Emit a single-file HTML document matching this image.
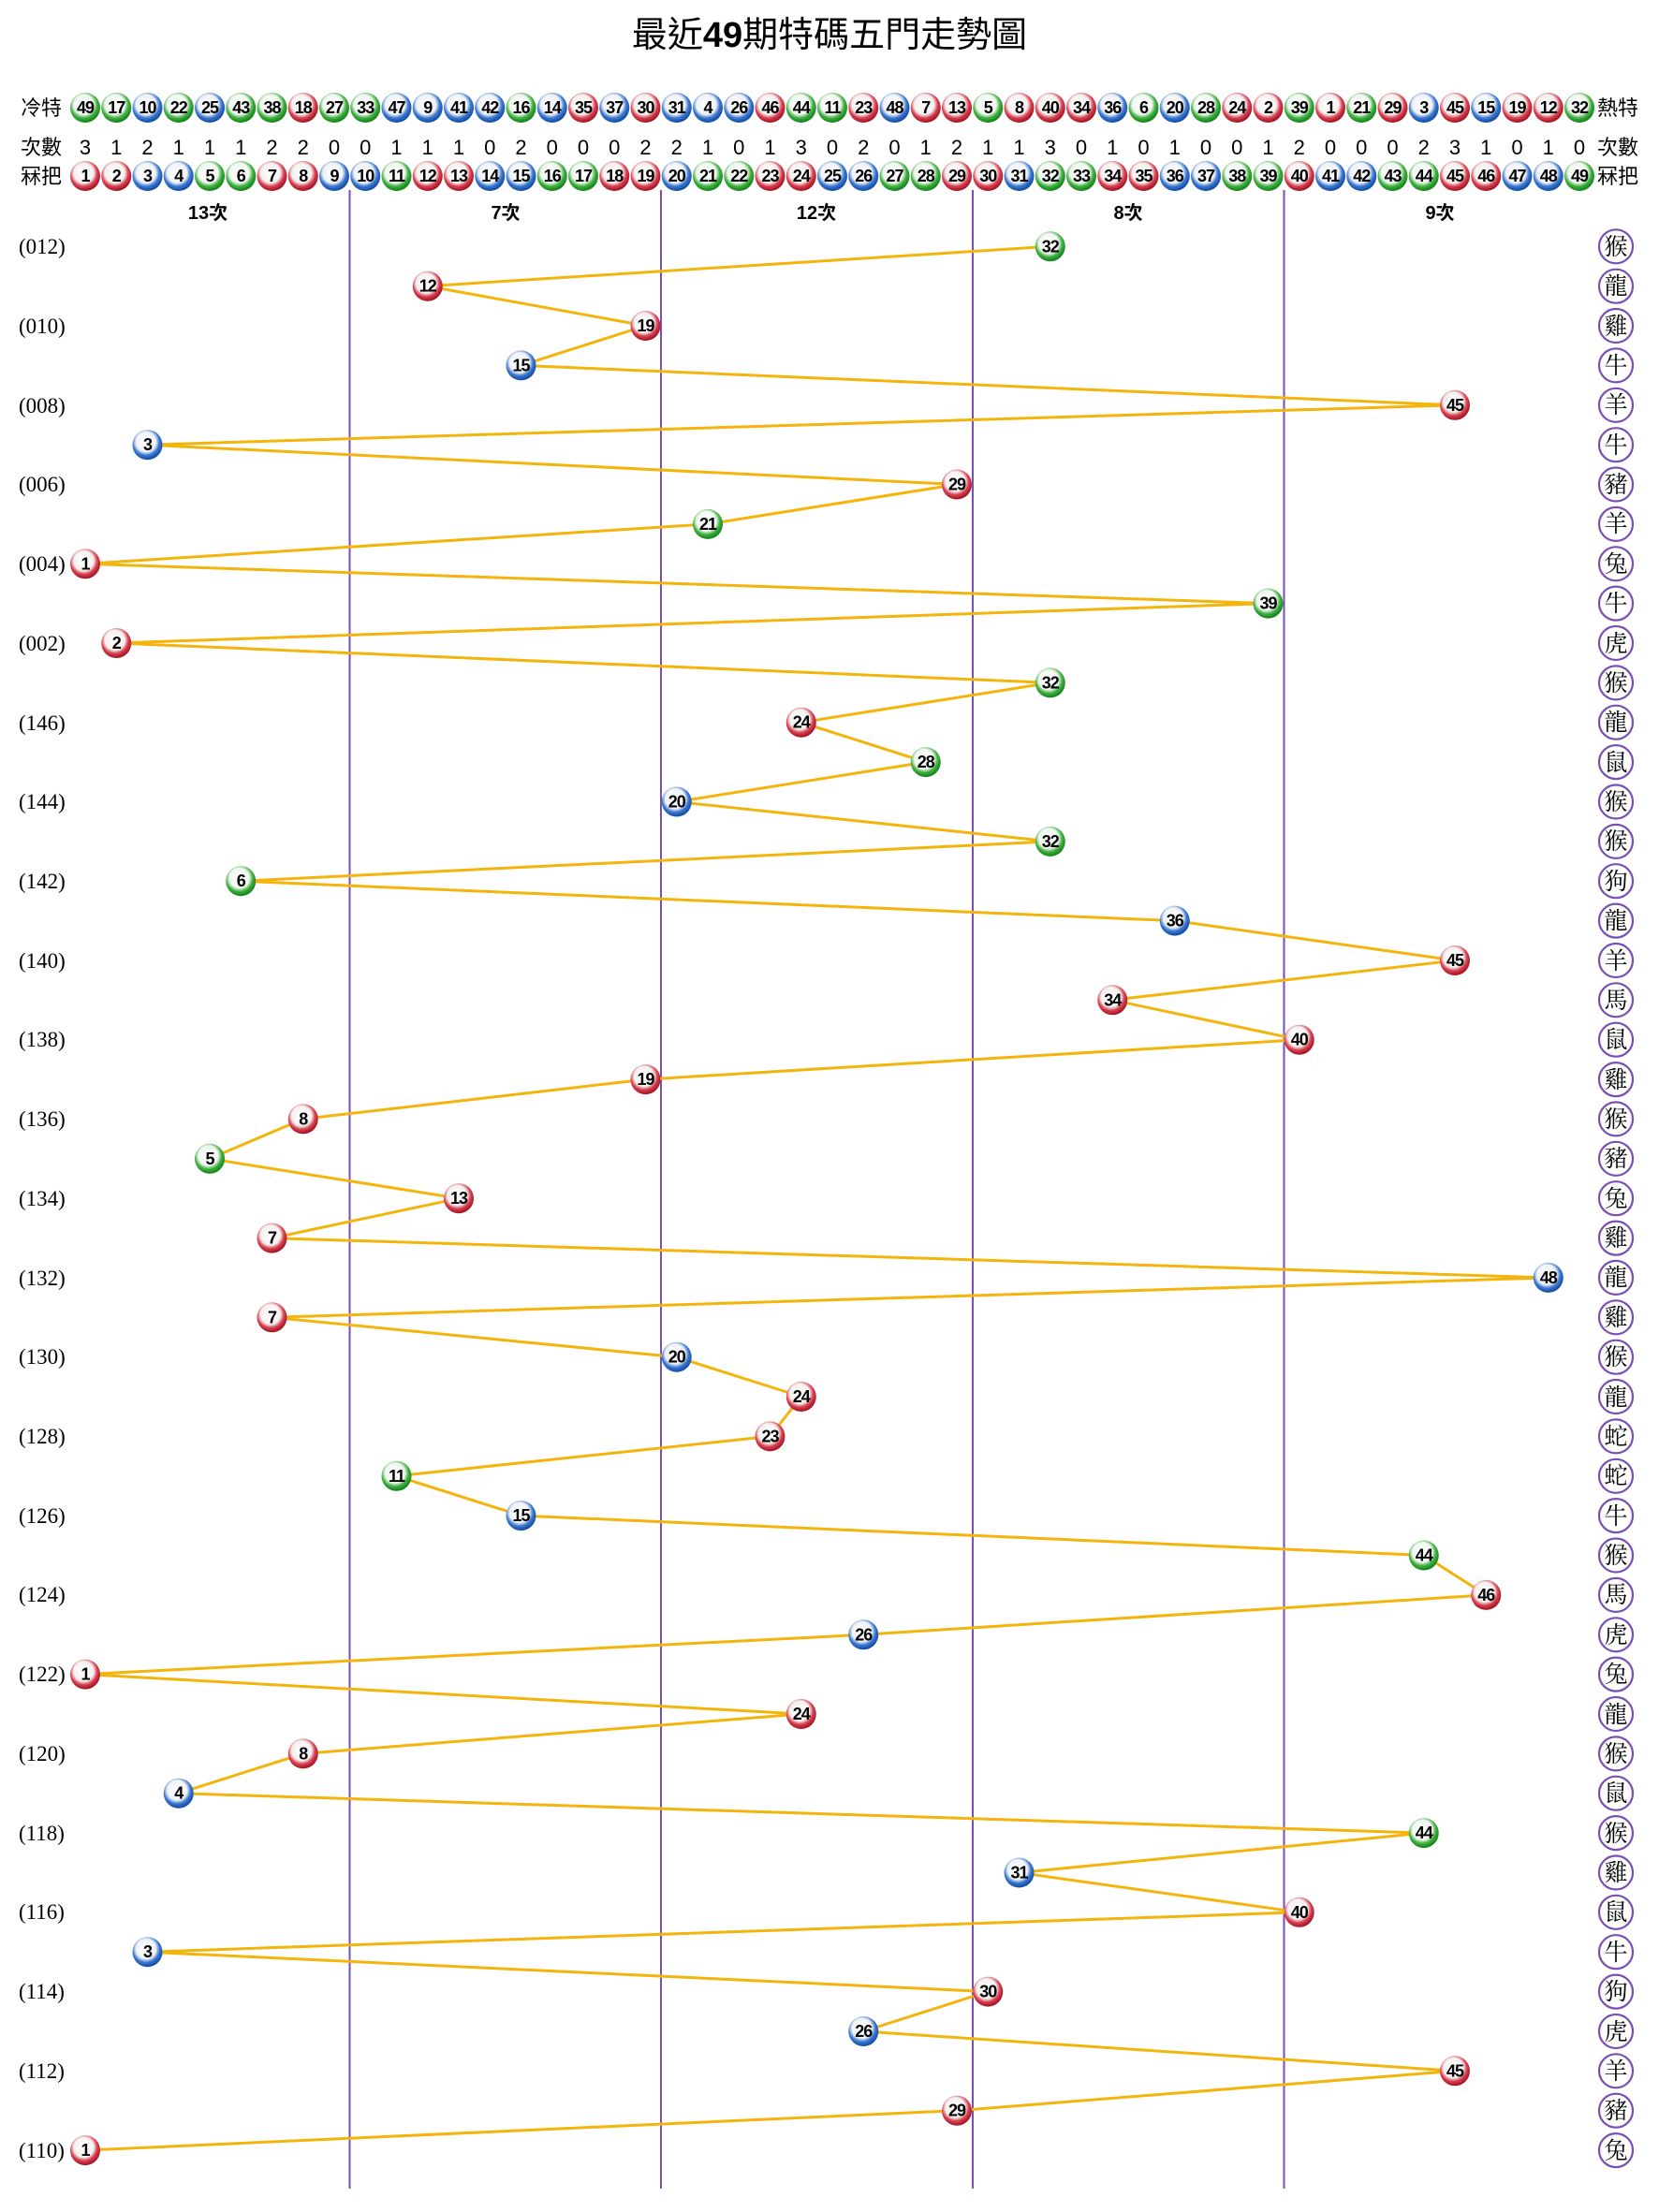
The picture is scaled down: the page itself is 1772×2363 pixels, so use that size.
<!DOCTYPE html>
<html><head><meta charset="utf-8"><style>
html,body{margin:0;padding:0;background:#fff;}
svg{display:block;}
.n{font-family:"Liberation Sans",sans-serif;font-weight:bold;font-size:18px;text-anchor:middle;fill:#000;letter-spacing:-1px}
.c{font-family:"Liberation Sans",sans-serif;font-size:22px;text-anchor:middle;fill:#000}
.h{font-family:"Liberation Sans","Noto Sans CJK TC",sans-serif;font-size:22px;fill:#000}
.l{font-family:"Liberation Serif",serif;font-size:23px;fill:#000}
.z{font-family:"Noto Serif CJK SC","Noto Sans CJK TC",serif;font-size:25px;text-anchor:middle;fill:#000}
.g{font-family:"Liberation Sans","Noto Sans CJK TC",sans-serif;font-size:20px;font-weight:bold;text-anchor:middle;fill:#000}
</style></head><body>
<svg width="1772" height="2363" viewBox="0 0 1772 2363" xmlns="http://www.w3.org/2000/svg">
<defs>
<radialGradient id="gr" cx="45%" cy="40%" r="60%"><stop offset="0" stop-color="#fff"/><stop offset="0.55" stop-color="#f4f0f0"/><stop offset="0.75" stop-color="#d84050"/><stop offset="1" stop-color="#a01020"/></radialGradient>
<radialGradient id="gb" cx="45%" cy="40%" r="60%"><stop offset="0" stop-color="#fff"/><stop offset="0.55" stop-color="#f0f2f6"/><stop offset="0.75" stop-color="#3a78d0"/><stop offset="1" stop-color="#1048a0"/></radialGradient>
<radialGradient id="gg" cx="45%" cy="40%" r="60%"><stop offset="0" stop-color="#fff"/><stop offset="0.55" stop-color="#f0f6f0"/><stop offset="0.75" stop-color="#40b040"/><stop offset="1" stop-color="#108018"/></radialGradient>
<circle id="R" r="16" fill="url(#gr)"/>
<circle id="B" r="16" fill="url(#gb)"/>
<circle id="G" r="16" fill="url(#gg)"/>
</defs>
<text x="886" y="50" text-anchor="middle" font-family="'Liberation Sans','Noto Sans CJK TC',sans-serif" font-size="38">最近<tspan font-weight="bold">49</tspan>期特碼五門走勢圖</text>

<text class="h" x="22" y="123">冷特</text>
<text class="h" x="22" y="165">次數</text>
<text class="h" x="22" y="196">冧把</text>
<text class="h" x="1706" y="123">熱特</text>
<text class="h" x="1706" y="165">次數</text>
<text class="h" x="1706" y="196">冧把</text>

<!-- vertical lines -->
<g stroke="#7a4fb5" stroke-width="2">
<line x1="373.5" y1="203" x2="373.5" y2="2338"/>
<line x1="706" y1="203" x2="706" y2="2338"/>
<line x1="1039" y1="203" x2="1039" y2="2338"/>
<line x1="1371.5" y1="203" x2="1371.5" y2="2338"/>
</g>

<g class="g">
<text x="222" y="234">13次</text><text x="540" y="234">7次</text><text x="872" y="234">12次</text><text x="1205" y="234">8次</text><text x="1538" y="234">9次</text>
</g>

<!-- top row 冷特 -->
<g>
<use href="#G" x="91" y="115"/><use href="#G" x="124.25" y="115"/><use href="#B" x="157.5" y="115"/><use href="#G" x="190.75" y="115"/><use href="#B" x="224" y="115"/><use href="#G" x="257.25" y="115"/><use href="#G" x="290.5" y="115"/><use href="#R" x="323.75" y="115"/><use href="#G" x="357" y="115"/><use href="#G" x="390.25" y="115"/>
<use href="#B" x="423.5" y="115"/><use href="#B" x="456.75" y="115"/><use href="#B" x="490" y="115"/><use href="#B" x="523.25" y="115"/><use href="#G" x="556.5" y="115"/><use href="#B" x="589.75" y="115"/><use href="#R" x="623" y="115"/><use href="#B" x="656.25" y="115"/><use href="#R" x="689.5" y="115"/><use href="#B" x="722.75" y="115"/>
<use href="#B" x="756" y="115"/><use href="#B" x="789.25" y="115"/><use href="#R" x="822.5" y="115"/><use href="#G" x="855.75" y="115"/><use href="#G" x="889" y="115"/><use href="#R" x="922.25" y="115"/><use href="#B" x="955.5" y="115"/><use href="#R" x="988.75" y="115"/><use href="#R" x="1022" y="115"/><use href="#G" x="1055.25" y="115"/>
<use href="#R" x="1088.5" y="115"/><use href="#R" x="1121.75" y="115"/><use href="#R" x="1155" y="115"/><use href="#B" x="1188.25" y="115"/><use href="#G" x="1221.5" y="115"/><use href="#B" x="1254.75" y="115"/><use href="#G" x="1288" y="115"/><use href="#R" x="1321.25" y="115"/><use href="#R" x="1354.5" y="115"/><use href="#G" x="1387.75" y="115"/>
<use href="#R" x="1421" y="115"/><use href="#G" x="1454.25" y="115"/><use href="#R" x="1487.5" y="115"/><use href="#B" x="1520.75" y="115"/><use href="#R" x="1554" y="115"/><use href="#B" x="1587.25" y="115"/><use href="#R" x="1620.5" y="115"/><use href="#R" x="1653.75" y="115"/><use href="#G" x="1687" y="115"/>
</g>
<g class="n">
<text x="91" y="121">49</text><text x="124.25" y="121">17</text><text x="157.5" y="121">10</text><text x="190.75" y="121">22</text><text x="224" y="121">25</text><text x="257.25" y="121">43</text><text x="290.5" y="121">38</text><text x="323.75" y="121">18</text><text x="357" y="121">27</text><text x="390.25" y="121">33</text>
<text x="423.5" y="121">47</text><text x="456.75" y="121">9</text><text x="490" y="121">41</text><text x="523.25" y="121">42</text><text x="556.5" y="121">16</text><text x="589.75" y="121">14</text><text x="623" y="121">35</text><text x="656.25" y="121">37</text><text x="689.5" y="121">30</text><text x="722.75" y="121">31</text>
<text x="756" y="121">4</text><text x="789.25" y="121">26</text><text x="822.5" y="121">46</text><text x="855.75" y="121">44</text><text x="889" y="121">11</text><text x="922.25" y="121">23</text><text x="955.5" y="121">48</text><text x="988.75" y="121">7</text><text x="1022" y="121">13</text><text x="1055.25" y="121">5</text>
<text x="1088.5" y="121">8</text><text x="1121.75" y="121">40</text><text x="1155" y="121">34</text><text x="1188.25" y="121">36</text><text x="1221.5" y="121">6</text><text x="1254.75" y="121">20</text><text x="1288" y="121">28</text><text x="1321.25" y="121">24</text><text x="1354.5" y="121">2</text><text x="1387.75" y="121">39</text>
<text x="1421" y="121">1</text><text x="1454.25" y="121">21</text><text x="1487.5" y="121">29</text><text x="1520.75" y="121">3</text><text x="1554" y="121">45</text><text x="1587.25" y="121">15</text><text x="1620.5" y="121">19</text><text x="1653.75" y="121">12</text><text x="1687" y="121">32</text>
</g>

<!-- counts -->
<g class="c">
<text x="91" y="165">3</text><text x="124.25" y="165">1</text><text x="157.5" y="165">2</text><text x="190.75" y="165">1</text><text x="224" y="165">1</text><text x="257.25" y="165">1</text><text x="290.5" y="165">2</text><text x="323.75" y="165">2</text><text x="357" y="165">0</text><text x="390.25" y="165">0</text>
<text x="423.5" y="165">1</text><text x="456.75" y="165">1</text><text x="490" y="165">1</text><text x="523.25" y="165">0</text><text x="556.5" y="165">2</text><text x="589.75" y="165">0</text><text x="623" y="165">0</text><text x="656.25" y="165">0</text><text x="689.5" y="165">2</text><text x="722.75" y="165">2</text>
<text x="756" y="165">1</text><text x="789.25" y="165">0</text><text x="822.5" y="165">1</text><text x="855.75" y="165">3</text><text x="889" y="165">0</text><text x="922.25" y="165">2</text><text x="955.5" y="165">0</text><text x="988.75" y="165">1</text><text x="1022" y="165">2</text><text x="1055.25" y="165">1</text>
<text x="1088.5" y="165">1</text><text x="1121.75" y="165">3</text><text x="1155" y="165">0</text><text x="1188.25" y="165">1</text><text x="1221.5" y="165">0</text><text x="1254.75" y="165">1</text><text x="1288" y="165">0</text><text x="1321.25" y="165">0</text><text x="1354.5" y="165">1</text><text x="1387.75" y="165">2</text>
<text x="1421" y="165">0</text><text x="1454.25" y="165">0</text><text x="1487.5" y="165">0</text><text x="1520.75" y="165">2</text><text x="1554" y="165">3</text><text x="1587.25" y="165">1</text><text x="1620.5" y="165">0</text><text x="1653.75" y="165">1</text><text x="1687" y="165">0</text>
</g>

<!-- bottom row 冧把 -->
<g>
<use href="#R" x="91" y="188"/><use href="#R" x="124.25" y="188"/><use href="#B" x="157.5" y="188"/><use href="#B" x="190.75" y="188"/><use href="#G" x="224" y="188"/><use href="#G" x="257.25" y="188"/><use href="#R" x="290.5" y="188"/><use href="#R" x="323.75" y="188"/><use href="#B" x="357" y="188"/><use href="#B" x="390.25" y="188"/>
<use href="#G" x="423.5" y="188"/><use href="#R" x="456.75" y="188"/><use href="#R" x="490" y="188"/><use href="#B" x="523.25" y="188"/><use href="#B" x="556.5" y="188"/><use href="#G" x="589.75" y="188"/><use href="#G" x="623" y="188"/><use href="#R" x="656.25" y="188"/><use href="#R" x="689.5" y="188"/><use href="#B" x="722.75" y="188"/>
<use href="#G" x="756" y="188"/><use href="#G" x="789.25" y="188"/><use href="#R" x="822.5" y="188"/><use href="#R" x="855.75" y="188"/><use href="#B" x="889" y="188"/><use href="#B" x="922.25" y="188"/><use href="#G" x="955.5" y="188"/><use href="#G" x="988.75" y="188"/><use href="#R" x="1022" y="188"/><use href="#R" x="1055.25" y="188"/>
<use href="#B" x="1088.5" y="188"/><use href="#G" x="1121.75" y="188"/><use href="#G" x="1155" y="188"/><use href="#R" x="1188.25" y="188"/><use href="#R" x="1221.5" y="188"/><use href="#B" x="1254.75" y="188"/><use href="#B" x="1288" y="188"/><use href="#G" x="1321.25" y="188"/><use href="#G" x="1354.5" y="188"/><use href="#R" x="1387.75" y="188"/>
<use href="#B" x="1421" y="188"/><use href="#B" x="1454.25" y="188"/><use href="#G" x="1487.5" y="188"/><use href="#G" x="1520.75" y="188"/><use href="#R" x="1554" y="188"/><use href="#R" x="1587.25" y="188"/><use href="#B" x="1620.5" y="188"/><use href="#B" x="1653.75" y="188"/><use href="#G" x="1687" y="188"/>
</g>
<g class="n">
<text x="91" y="194">1</text><text x="124.25" y="194">2</text><text x="157.5" y="194">3</text><text x="190.75" y="194">4</text><text x="224" y="194">5</text><text x="257.25" y="194">6</text><text x="290.5" y="194">7</text><text x="323.75" y="194">8</text><text x="357" y="194">9</text><text x="390.25" y="194">10</text>
<text x="423.5" y="194">11</text><text x="456.75" y="194">12</text><text x="490" y="194">13</text><text x="523.25" y="194">14</text><text x="556.5" y="194">15</text><text x="589.75" y="194">16</text><text x="623" y="194">17</text><text x="656.25" y="194">18</text><text x="689.5" y="194">19</text><text x="722.75" y="194">20</text>
<text x="756" y="194">21</text><text x="789.25" y="194">22</text><text x="822.5" y="194">23</text><text x="855.75" y="194">24</text><text x="889" y="194">25</text><text x="922.25" y="194">26</text><text x="955.5" y="194">27</text><text x="988.75" y="194">28</text><text x="1022" y="194">29</text><text x="1055.25" y="194">30</text>
<text x="1088.5" y="194">31</text><text x="1121.75" y="194">32</text><text x="1155" y="194">33</text><text x="1188.25" y="194">34</text><text x="1221.5" y="194">35</text><text x="1254.75" y="194">36</text><text x="1288" y="194">37</text><text x="1321.25" y="194">38</text><text x="1354.5" y="194">39</text><text x="1387.75" y="194">40</text>
<text x="1421" y="194">41</text><text x="1454.25" y="194">42</text><text x="1487.5" y="194">43</text><text x="1520.75" y="194">44</text><text x="1554" y="194">45</text><text x="1587.25" y="194">46</text><text x="1620.5" y="194">47</text><text x="1653.75" y="194">48</text><text x="1687" y="194">49</text>
</g>

<!-- row labels -->
<g class="l">
<text x="20" y="271">(012)</text><text x="20" y="356">(010)</text><text x="20" y="441">(008)</text><text x="20" y="525">(006)</text><text x="20" y="610">(004)</text><text x="20" y="695">(002)</text><text x="20" y="780">(146)</text><text x="20" y="864">(144)</text><text x="20" y="949">(142)</text><text x="20" y="1034">(140)</text><text x="20" y="1118">(138)</text><text x="20" y="1203">(136)</text><text x="20" y="1288">(134)</text><text x="20" y="1373">(132)</text><text x="20" y="1457">(130)</text><text x="20" y="1542">(128)</text><text x="20" y="1627">(126)</text><text x="20" y="1711">(124)</text><text x="20" y="1796">(122)</text><text x="20" y="1881">(120)</text><text x="20" y="1966">(118)</text><text x="20" y="2050">(116)</text><text x="20" y="2135">(114)</text><text x="20" y="2220">(112)</text><text x="20" y="2305">(110)</text>
</g>

<!-- trend line -->
<polyline fill="none" stroke="#f3b50c" stroke-width="3" stroke-linejoin="round" points="1121.75,263.3 456.75,305.7 689.5,348 556.5,390.4 1554,432.8 157.5,475.2 1022,517.5 756,559.9 91,602.3 1354.5,644.6 124.25,687 1121.75,729.4 855.75,771.7 988.75,814.1 722.75,856.5 1121.75,898.9 257.25,941.2 1254.75,983.6 1554,1026 1188.25,1068.3 1387.75,1110.7 689.5,1153.1 323.75,1195.4 224,1237.8 490,1280.2 290.5,1322.6 1653.75,1364.9 290.5,1407.3 722.75,1449.7 855.75,1492 822.5,1534.4 423.5,1576.8 556.5,1619.1 1520.75,1661.5 1587.25,1703.9 922.25,1746.3 91,1788.6 855.75,1831 323.75,1873.4 190.75,1915.7 1520.75,1958.1 1088.5,2000.5 1387.75,2042.8 157.5,2085.2 1055.25,2127.6 922.25,2170 1554,2212.3 1022,2254.7 91,2297.1"/>

<!-- chart balls -->
<g>
<use href="#G" x="1121.75" y="263.3"/><use href="#R" x="456.75" y="305.7"/><use href="#R" x="689.5" y="348"/><use href="#B" x="556.5" y="390.4"/><use href="#R" x="1554" y="432.8"/><use href="#B" x="157.5" y="475.2"/><use href="#R" x="1022" y="517.5"/><use href="#G" x="756" y="559.9"/><use href="#R" x="91" y="602.3"/><use href="#G" x="1354.5" y="644.6"/>
<use href="#R" x="124.25" y="687"/><use href="#G" x="1121.75" y="729.4"/><use href="#R" x="855.75" y="771.7"/><use href="#G" x="988.75" y="814.1"/><use href="#B" x="722.75" y="856.5"/><use href="#G" x="1121.75" y="898.9"/><use href="#G" x="257.25" y="941.2"/><use href="#B" x="1254.75" y="983.6"/><use href="#R" x="1554" y="1026"/><use href="#R" x="1188.25" y="1068.3"/>
<use href="#R" x="1387.75" y="1110.7"/><use href="#R" x="689.5" y="1153.1"/><use href="#R" x="323.75" y="1195.4"/><use href="#G" x="224" y="1237.8"/><use href="#R" x="490" y="1280.2"/><use href="#R" x="290.5" y="1322.6"/><use href="#B" x="1653.75" y="1364.9"/><use href="#R" x="290.5" y="1407.3"/><use href="#B" x="722.75" y="1449.7"/><use href="#R" x="855.75" y="1492"/>
<use href="#R" x="822.5" y="1534.4"/><use href="#G" x="423.5" y="1576.8"/><use href="#B" x="556.5" y="1619.1"/><use href="#G" x="1520.75" y="1661.5"/><use href="#R" x="1587.25" y="1703.9"/><use href="#B" x="922.25" y="1746.3"/><use href="#R" x="91" y="1788.6"/><use href="#R" x="855.75" y="1831"/><use href="#R" x="323.75" y="1873.4"/><use href="#B" x="190.75" y="1915.7"/>
<use href="#G" x="1520.75" y="1958.1"/><use href="#B" x="1088.5" y="2000.5"/><use href="#R" x="1387.75" y="2042.8"/><use href="#B" x="157.5" y="2085.2"/><use href="#R" x="1055.25" y="2127.6"/><use href="#B" x="922.25" y="2170"/><use href="#R" x="1554" y="2212.3"/><use href="#R" x="1022" y="2254.7"/><use href="#R" x="91" y="2297.1"/>
</g>
<g class="n">
<text x="1121.75" y="269.3">32</text><text x="456.75" y="311.7">12</text><text x="689.5" y="354">19</text><text x="556.5" y="396.4">15</text><text x="1554" y="438.8">45</text><text x="157.5" y="481.2">3</text><text x="1022" y="523.5">29</text><text x="756" y="565.9">21</text><text x="91" y="608.3">1</text><text x="1354.5" y="650.6">39</text>
<text x="124.25" y="693">2</text><text x="1121.75" y="735.4">32</text><text x="855.75" y="777.7">24</text><text x="988.75" y="820.1">28</text><text x="722.75" y="862.5">20</text><text x="1121.75" y="904.9">32</text><text x="257.25" y="947.2">6</text><text x="1254.75" y="989.6">36</text><text x="1554" y="1032">45</text><text x="1188.25" y="1074.3">34</text>
<text x="1387.75" y="1116.7">40</text><text x="689.5" y="1159.1">19</text><text x="323.75" y="1201.4">8</text><text x="224" y="1243.8">5</text><text x="490" y="1286.2">13</text><text x="290.5" y="1328.6">7</text><text x="1653.75" y="1370.9">48</text><text x="290.5" y="1413.3">7</text><text x="722.75" y="1455.7">20</text><text x="855.75" y="1498">24</text>
<text x="822.5" y="1540.4">23</text><text x="423.5" y="1582.8">11</text><text x="556.5" y="1625.1">15</text><text x="1520.75" y="1667.5">44</text><text x="1587.25" y="1709.9">46</text><text x="922.25" y="1752.3">26</text><text x="91" y="1794.6">1</text><text x="855.75" y="1837">24</text><text x="323.75" y="1879.4">8</text><text x="190.75" y="1921.7">4</text>
<text x="1520.75" y="1964.1">44</text><text x="1088.5" y="2006.5">31</text><text x="1387.75" y="2048.8">40</text><text x="157.5" y="2091.2">3</text><text x="1055.25" y="2133.6">30</text><text x="922.25" y="2176">26</text><text x="1554" y="2218.3">45</text><text x="1022" y="2260.7">29</text><text x="91" y="2303.1">1</text>
</g>

<!-- zodiac -->
<g fill="#fff" stroke="#7a4fb5" stroke-width="2.2">
<circle cx="1726" cy="263.3" r="18"/><circle cx="1726" cy="305.7" r="18"/><circle cx="1726" cy="348" r="18"/><circle cx="1726" cy="390.4" r="18"/><circle cx="1726" cy="432.8" r="18"/><circle cx="1726" cy="475.2" r="18"/><circle cx="1726" cy="517.5" r="18"/><circle cx="1726" cy="559.9" r="18"/><circle cx="1726" cy="602.3" r="18"/><circle cx="1726" cy="644.6" r="18"/>
<circle cx="1726" cy="687" r="18"/><circle cx="1726" cy="729.4" r="18"/><circle cx="1726" cy="771.7" r="18"/><circle cx="1726" cy="814.1" r="18"/><circle cx="1726" cy="856.5" r="18"/><circle cx="1726" cy="898.9" r="18"/><circle cx="1726" cy="941.2" r="18"/><circle cx="1726" cy="983.6" r="18"/><circle cx="1726" cy="1026" r="18"/><circle cx="1726" cy="1068.3" r="18"/>
<circle cx="1726" cy="1110.7" r="18"/><circle cx="1726" cy="1153.1" r="18"/><circle cx="1726" cy="1195.4" r="18"/><circle cx="1726" cy="1237.8" r="18"/><circle cx="1726" cy="1280.2" r="18"/><circle cx="1726" cy="1322.6" r="18"/><circle cx="1726" cy="1364.9" r="18"/><circle cx="1726" cy="1407.3" r="18"/><circle cx="1726" cy="1449.7" r="18"/><circle cx="1726" cy="1492" r="18"/>
<circle cx="1726" cy="1534.4" r="18"/><circle cx="1726" cy="1576.8" r="18"/><circle cx="1726" cy="1619.1" r="18"/><circle cx="1726" cy="1661.5" r="18"/><circle cx="1726" cy="1703.9" r="18"/><circle cx="1726" cy="1746.3" r="18"/><circle cx="1726" cy="1788.6" r="18"/><circle cx="1726" cy="1831" r="18"/><circle cx="1726" cy="1873.4" r="18"/><circle cx="1726" cy="1915.7" r="18"/>
<circle cx="1726" cy="1958.1" r="18"/><circle cx="1726" cy="2000.5" r="18"/><circle cx="1726" cy="2042.8" r="18"/><circle cx="1726" cy="2085.2" r="18"/><circle cx="1726" cy="2127.6" r="18"/><circle cx="1726" cy="2170" r="18"/><circle cx="1726" cy="2212.3" r="18"/><circle cx="1726" cy="2254.7" r="18"/><circle cx="1726" cy="2297.1" r="18"/>
</g>
<g class="z">
<text x="1726" y="272">猴</text><text x="1726" y="314">龍</text><text x="1726" y="357">雞</text><text x="1726" y="399">牛</text><text x="1726" y="441">羊</text><text x="1726" y="484">牛</text><text x="1726" y="526">豬</text><text x="1726" y="568">羊</text><text x="1726" y="611">兔</text><text x="1726" y="653">牛</text>
<text x="1726" y="696">虎</text><text x="1726" y="738">猴</text><text x="1726" y="780">龍</text><text x="1726" y="823">鼠</text><text x="1726" y="865">猴</text><text x="1726" y="907">猴</text><text x="1726" y="950">狗</text><text x="1726" y="992">龍</text><text x="1726" y="1035">羊</text><text x="1726" y="1077">馬</text>
<text x="1726" y="1119">鼠</text><text x="1726" y="1162">雞</text><text x="1726" y="1204">猴</text><text x="1726" y="1246">豬</text><text x="1726" y="1289">兔</text><text x="1726" y="1331">雞</text><text x="1726" y="1373">龍</text><text x="1726" y="1416">雞</text><text x="1726" y="1458">猴</text><text x="1726" y="1501">龍</text>
<text x="1726" y="1543">蛇</text><text x="1726" y="1585">蛇</text><text x="1726" y="1628">牛</text><text x="1726" y="1670">猴</text><text x="1726" y="1712">馬</text><text x="1726" y="1755">虎</text><text x="1726" y="1797">兔</text><text x="1726" y="1840">龍</text><text x="1726" y="1882">猴</text><text x="1726" y="1924">鼠</text>
<text x="1726" y="1967">猴</text><text x="1726" y="2009">雞</text><text x="1726" y="2051">鼠</text><text x="1726" y="2094">牛</text><text x="1726" y="2136">狗</text><text x="1726" y="2179">虎</text><text x="1726" y="2221">羊</text><text x="1726" y="2263">豬</text><text x="1726" y="2306">兔</text>
</g>
</svg>
</body></html>
